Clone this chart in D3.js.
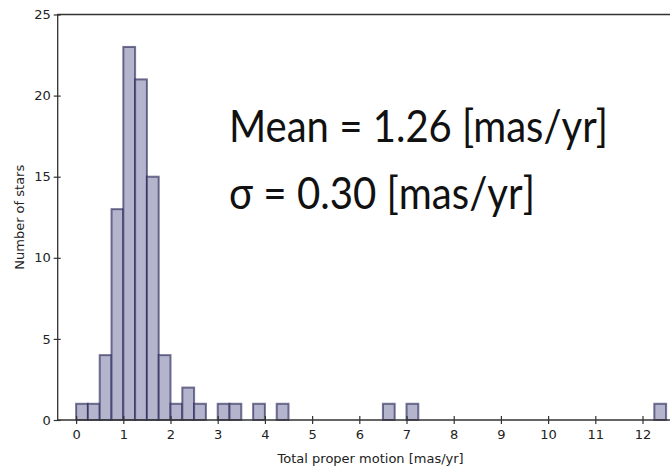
<!DOCTYPE html>
<html>
<head>
<meta charset="utf-8">
<script src="https://cdn.jsdelivr.net/npm/d3@7/dist/d3.min.js"></script>
<style>
  html, body { margin: 0; padding: 0; background: #fff; }
  svg { display: block; }
  .tick text { font-family: "DejaVu Sans", sans-serif; font-size: 13px; fill: #222; }
</style>
</head>
<body>
<svg id="chart" width="670" height="468"></svg>
<script>
// Histogram of total proper motion, bins of 0.25 mas/yr (left edges)
const binStarts = [0, 0.25, 0.5, 0.75, 1.0, 1.25, 1.5, 1.75, 2.0, 2.25, 2.5, 3.0, 3.25, 3.75, 4.25, 6.5, 7.0, 12.25];
const binCounts = [1, 1, 4, 13, 23, 21, 15, 4, 1, 2, 1, 1, 1, 1, 1, 1, 1, 1];
const binWidth = 0.25;
const xTicks = [0, 1, 2, 3, 4, 5, 6, 7, 8, 9, 10, 11, 12];
const yTicks = [0, 5, 10, 15, 20, 25];
const statLines = ["Mean = 1.26 [mas/yr]", "σ = 0.30 [mas/yr]"];

const svg = d3.select("#chart");
const x = d3.scaleLinear().domain([-0.39, 12.9]).range([57.7, 57.7 + 13.29 * 47.2]);
const y = d3.scaleLinear().domain([0, 25]).range([420, 14.5]);

// bars
svg.append("g").selectAll("rect")
  .data(binStarts.map((s, i) => ({ s, c: binCounts[i] })))
  .join("rect")
  .attr("x", d => x(d.s))
  .attr("y", d => y(d.c))
  .attr("width", d => x(d.s + binWidth) - x(d.s))
  .attr("height", d => y(0) - y(d.c))
  .attr("fill", "#b4b4cc")
  .attr("stroke", "#1c1c50")
  .attr("stroke-opacity", 0.6)
  .attr("stroke-width", 2);

// frame
const [x0, x1] = x.range();
const [yb, yt] = y.range();
svg.append("path")
  .attr("d", `M${x0},${yb}V${yt}H${x1}V${yb}Z`)
  .attr("fill", "none").attr("stroke", "#333").attr("stroke-width", 1.3);

// axes with ticks crossing the spine
const xAxis = svg.append("g").attr("transform", `translate(0,${yb})`)
  .call(d3.axisBottom(x).tickValues(xTicks).tickSize(4).tickPadding(6).tickFormat(d3.format("d")));
xAxis.select(".domain").remove();
xAxis.selectAll(".tick line").attr("y1", -4).attr("stroke", "#333").attr("stroke-width", 1.2);

const yAxis = svg.append("g").attr("transform", `translate(${x0},0)`)
  .call(d3.axisLeft(y).tickValues(yTicks).tickSize(4).tickPadding(3).tickFormat(d3.format("d")));
yAxis.select(".domain").remove();
yAxis.selectAll(".tick line").attr("x1", 3).attr("x2", -4).attr("stroke", "#333").attr("stroke-width", 1.2);

// axis titles
svg.append("text")
  .attr("x", x(6.24)).attr("y", 463)
  .attr("text-anchor", "middle")
  .style("font-family", "DejaVu Sans, sans-serif").style("font-size", "13px").style("fill", "#222")
  .text("Total proper motion [mas/yr]");
svg.append("text")
  .attr("transform", `translate(24,${(yb + yt) / 2}) rotate(-90)`)
  .attr("text-anchor", "middle")
  .style("font-family", "DejaVu Sans, sans-serif").style("font-size", "13px").style("fill", "#222")
  .text("Number of stars");

// summary statistics
const statY = [142, 209];
const statWidth = [379, 306];
svg.selectAll("text.stat")
  .data(statLines)
  .join("text")
  .attr("class", "stat")
  .attr("x", 229)
  .attr("y", (d, i) => statY[i])
  .attr("textLength", (d, i) => statWidth[i])
  .attr("lengthAdjust", "spacingAndGlyphs")
  .style("font-family", "Lato, sans-serif")
  .style("font-weight", 400)
  .style("font-size", "44px")
  .style("fill", "#111")
  .text(d => d);
</script>
</body>
</html>
